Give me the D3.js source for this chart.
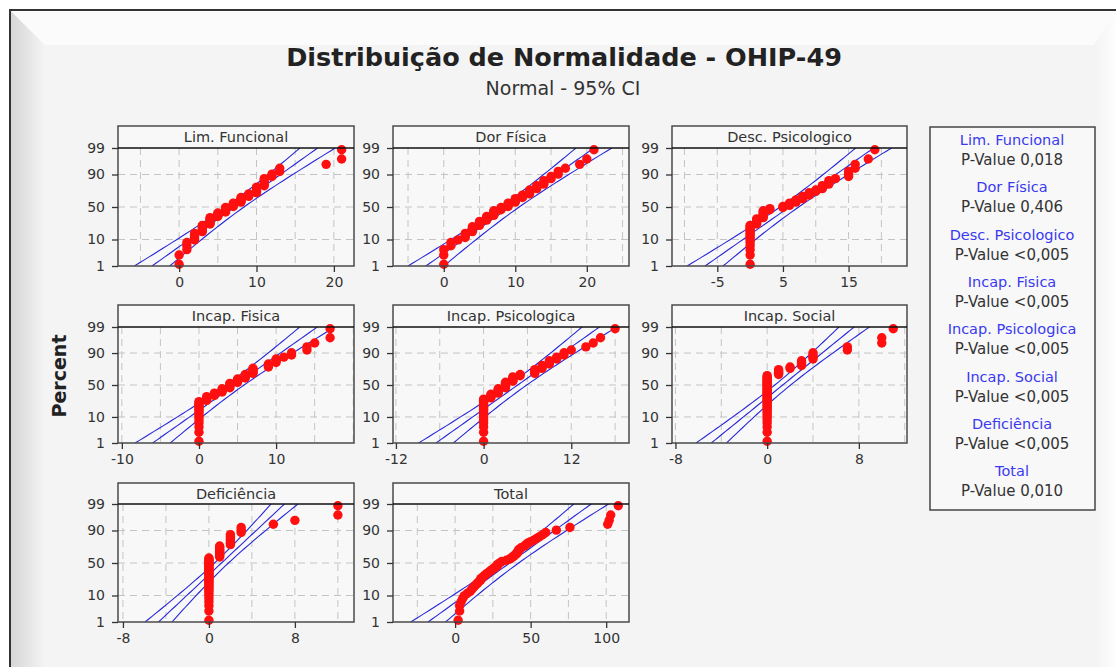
<!DOCTYPE html>
<html lang="pt">

<head>
    <meta charset="UTF-8">
    <title>Distribuição de Normalidade - OHIP-49</title>
    <style>
        body { margin: 0; background: #fff; }
        svg { display: block; font-family: 'DejaVu Sans', Verdana, sans-serif; }
    </style>
</head>

<body>
    <svg id="chart"></svg>

    <script src="https://d3js.org/d3.v7.min.js"></script>
    <script>
        const panelNames = ['Lim. Funcional', 'Dor Física', 'Desc. Psicologico', 'Incap. Fisica',
            'Incap. Psicologica', 'Incap. Social', 'Deficiência', 'Total']
        const pValues = ['0,018', '0,406', '<0,005', '<0,005', '<0,005', '<0,005', '<0,005', '0,010']
        const yTicks = [1, 10, 50, 90, 99]
        const xTicks = [[0, 10, 20], [0, 10, 20], [-5, 5, 15], [-10, 0, 10], [-12, 0, 12], [-8, 0, 8], [-8, 0, 8], [0, 50, 100]]

        // score / how many subjects with that score
        const limFuncValues = [0, 1, 2, 3, 4, 5, 6, 7, 8, 9, 10, 11, 12, 13, 19, 21]
        const limFuncCounts = [2, 3, 4, 5, 6, 4, 5, 4, 5, 3, 5, 5, 2, 2, 1, 2]
        const dorValues = [0, 1, 2, 3, 4, 5, 6, 7, 8, 9, 10, 11, 12, 13, 14, 15, 16, 17, 19, 20, 21]
        const dorCounts = [3, 2, 1, 3, 4, 4, 4, 5, 3, 4, 4, 3, 4, 3, 3, 2, 2, 1, 1, 1, 1]
        const descValues = [0, 1, 2, 3, 5, 6, 7, 8, 9, 10, 11, 12, 13, 15, 16, 18, 19]
        const descCounts = [14, 5, 7, 2, 2, 3, 3, 3, 3, 2, 3, 3, 1, 3, 2, 1, 1]
        const incFisValues = [0, 1, 2, 3, 4, 5, 6, 7, 9, 10, 11, 12, 14, 15, 17]
        const incFisCounts = [15, 4, 3, 4, 5, 4, 4, 5, 3, 3, 1, 2, 2, 1, 2]
        const incPsiValues = [0, 1, 2, 3, 4, 5, 7, 8, 9, 10, 11, 12, 14, 15, 16, 18]
        const incPsiCounts = [17, 4, 5, 6, 5, 2, 4, 3, 3, 2, 2, 1, 1, 1, 1, 1]
        const incSocValues = [0, 1, 2, 3, 4, 7, 10, 11]
        const incSocCounts = [38, 5, 2, 4, 4, 2, 2, 1]
        const defValues = [0, 1, 2, 3, 6, 8, 12]
        const defCounts = [34, 10, 7, 3, 1, 1, 2]
        const totalValues = [2, 3, 3, 4, 5, 6, 8, 10, 11, 12, 13, 14, 15, 16, 17, 17, 18, 19, 20, 21,
            22, 23, 24, 25, 26, 27, 28, 28, 29, 30, 31, 34, 36, 37, 38, 39, 40, 41, 41, 42,
            42, 43, 44, 46, 47, 48, 50, 52, 54, 56, 58, 60, 67, 76, 101, 102, 103, 108]

        // fitted normal line (mean, sd)
        const fitMean = [7.2, 9.25, 5.98, 4.67, 4.67, 1.36, 1.17, 36.1]
        const fitSd = [4.6, 5.05, 5.52, 4.59, 4.81, 2.68, 2.52, 23.2]

        const samples = [
            [limFuncValues, limFuncCounts],
            [dorValues, dorCounts],
            [descValues, descCounts],
            [incFisValues, incFisCounts],
            [incPsiValues, incPsiCounts],
            [incSocValues, incSocCounts],
            [defValues, defCounts],
            [totalValues, totalValues.map(() => 1)]
        ]

        // layout
        const W = 1116, H = 667
        const cols = [[118, 354], [393, 629], [672, 907]]
        const rows = [
            { top: 126, line: 148, bottom: 266 },
            { top: 305, line: 327, bottom: 443 },
            { top: 483, line: 504, bottom: 622 }
        ]
        const xDomains = [[-7.9, 22.6], [-7.1, 25.9], [-11.9, 23.9], [-10.5, 20.1], [-12.4, 19.9], [-8.3, 12.2], [-8.46, 13.5], [-41.1, 115.1]]
        const gridStep = [5, 5, 5, 5, 6, 4, 4, 25]

        const blue = '#2626d9'
        const red = '#ff0f0f'

        // inverse normal cdf (Acklam)
        function probit(p) {
            const a = [-3.969683028665376e+01, 2.209460984245205e+02, -2.759285104469687e+02, 1.383577518672690e+02, -3.066479806614716e+01, 2.506628277459239e+00]
            const b = [-5.447609879822406e+01, 1.615858368580409e+02, -1.556989798598866e+02, 6.680131188771972e+01, -1.328068155288572e+01]
            const c = [-7.784894002430293e-03, -3.223964580411365e-01, -2.400758277161838e+00, -2.549732539343734e+00, 4.374664141464968e+00, 2.938163982698783e+00]
            const d = [7.784695709041462e-03, 3.224671290700398e-01, 2.445134137142996e+00, 3.754408661907416e+00]
            const pl = 0.02425
            let q, r
            if (p < pl) {
                q = Math.sqrt(-2 * Math.log(p))
                return (((((c[0] * q + c[1]) * q + c[2]) * q + c[3]) * q + c[4]) * q + c[5]) / ((((d[0] * q + d[1]) * q + d[2]) * q + d[3]) * q + 1)
            }
            if (p > 1 - pl) {
                q = Math.sqrt(-2 * Math.log(1 - p))
                return -(((((c[0] * q + c[1]) * q + c[2]) * q + c[3]) * q + c[4]) * q + c[5]) / ((((d[0] * q + d[1]) * q + d[2]) * q + d[3]) * q + 1)
            }
            q = p - 0.5
            r = q * q
            return (((((a[0] * r + a[1]) * r + a[2]) * r + a[3]) * r + a[4]) * r + a[5]) * q / (((((b[0] * r + b[1]) * r + b[2]) * r + b[3]) * r + b[4]) * r + 1)
        }

        function expand(values, counts) {
            const out = []
            values.forEach((v, k) => {
                for (let j = 0; j < counts[k]; j++) out.push(v)
            })
            return out
        }

        const svg = d3.select('#chart').attr('width', W).attr('height', H)

        function renderBackground() {
            const defs = svg.append('defs')
            const gl = defs.append('linearGradient').attr('id', 'bevelL')
            gl.append('stop').attr('offset', '0%').attr('stop-color', '#d6d6d6')
            gl.append('stop').attr('offset', '100%').attr('stop-color', '#f4f4f4')
            const gr = defs.append('linearGradient').attr('id', 'bevelR')
            gr.append('stop').attr('offset', '0%').attr('stop-color', '#f4f4f4')
            gr.append('stop').attr('offset', '100%').attr('stop-color', '#fdfdfd')

            svg.append('rect').attr('width', W).attr('height', H).attr('fill', '#fff')
            svg.append('rect').attr('x', 10).attr('y', 10).attr('width', W - 10).attr('height', H - 10).attr('fill', '#f4f4f4')
            svg.append('polygon').attr('points', `11,11 45,45 45,${H} 11,${H}`).attr('fill', 'url(#bevelL)')
            svg.append('polygon').attr('points', `11,11 ${W},11 ${W - 22},45 45,45`).attr('fill', '#fbfbfb')
            svg.append('polygon').attr('points', `${W - 22},45 ${W},11 ${W},${H} ${W - 22},${H}`).attr('fill', 'url(#bevelR)')
            svg.append('path').attr('d', `M10,${H} V10 H${W}`).attr('fill', 'none').attr('stroke', '#333').attr('stroke-width', 2)
        }

        function renderPanel(i) {
            const [x0, x1] = cols[i % 3]
            const r = rows[Math.floor(i / 3)]
            const zLo = probit(0.01), zHi = probit(0.99)
            const x = d3.scaleLinear().domain(xDomains[i]).range([x0, x1])
            const y = d3.scaleLinear().domain([zLo, zHi]).range([r.bottom, r.line])
            const g = svg.append('g')

            g.append('rect')
                .attr('x', x0).attr('y', r.top)
                .attr('width', x1 - x0).attr('height', r.bottom - r.top)
                .attr('fill', '#f8f8f8')

            g.append('clipPath').attr('id', 'clip' + i)
                .append('rect')
                .attr('x', x0).attr('y', r.line)
                .attr('width', x1 - x0).attr('height', r.bottom - r.line)

            // grid
            const step = gridStep[i]
            const gx = d3.range(Math.ceil(xDomains[i][0] / step) * step, xDomains[i][1], step)
            g.append('g').selectAll('line').data(gx).join('line')
                .attr('x1', d => x(d)).attr('x2', d => x(d))
                .attr('y1', r.line).attr('y2', r.bottom)
                .attr('stroke', '#c4c4c4').attr('stroke-dasharray', '7,5')
            g.append('g').selectAll('line').data([10, 50, 90]).join('line')
                .attr('x1', x0).attr('x2', x1)
                .attr('y1', d => y(probit(d / 100))).attr('y2', d => y(probit(d / 100)))
                .attr('stroke', '#c4c4c4').attr('stroke-dasharray', '7,5')

            // fit line + 95% CI
            const pts = expand(samples[i][0], samples[i][1])
            const n = pts.length
            const mu = fitMean[i], sd = fitSd[i]
            const zs = d3.range(0, 41).map(k => zLo + (zHi - zLo) * k / 40)
            const half = z => 1.96 * sd * Math.sqrt((1 + z * z / 2) / n)
            const line = d3.line().x(d => x(d[0])).y(d => y(d[1]))
            const curves = [
                zs.map(z => [mu + z * sd - half(z), z]),
                zs.map(z => [mu + z * sd, z]),
                zs.map(z => [mu + z * sd + half(z), z])
            ]
            g.append('g').attr('clip-path', `url(#clip${i})`)
                .selectAll('path').data(curves).join('path')
                .attr('d', line)
                .attr('fill', 'none').attr('stroke', blue).attr('stroke-width', 1.1)

            // points
            g.append('g').selectAll('circle').data(pts).join('circle')
                .attr('cx', d => x(d))
                .attr('cy', (d, k) => y(probit((k + 1 - 0.3) / (n + 0.4))))
                .attr('r', 4.7)
                .attr('fill', red)

            // frame and header
            g.append('rect')
                .attr('x', x0).attr('y', r.top)
                .attr('width', x1 - x0).attr('height', r.bottom - r.top)
                .attr('fill', 'none').attr('stroke', '#4a4a4a').attr('stroke-width', 1.5)
            g.append('line')
                .attr('x1', x0).attr('x2', x1).attr('y1', r.line).attr('y2', r.line)
                .attr('stroke', '#111').attr('stroke-width', 1.6)
            g.append('text')
                .attr('x', (x0 + x1) / 2).attr('y', (r.top + r.line) / 2 + 5)
                .attr('text-anchor', 'middle')
                .attr('font-size', 14.5).attr('fill', '#333')
                .text(panelNames[i])

            // axes
            const yAxis = d3.axisLeft(y)
                .tickValues(yTicks.map(p => probit(p / 100)))
                .tickFormat((d, k) => yTicks[k])
                .tickSize(6).tickPadding(7)
            const xAxis = d3.axisBottom(x).tickValues(xTicks[i])
                .tickFormat(d => String(d))
                .tickSize(6).tickPadding(5)
            const ya = g.append('g').attr('transform', `translate(${x0},0)`).call(yAxis)
            const xa = g.append('g').attr('transform', `translate(0,${r.bottom})`).call(xAxis)
            ;[ya, xa].forEach(a => {
                a.select('.domain').remove()
                a.selectAll('line').attr('stroke', '#333').attr('stroke-width', 1.3)
                a.selectAll('text').attr('font-size', 14).attr('font-family', "'DejaVu Sans', Verdana, sans-serif").attr('fill', '#333')
            })
        }

        function renderLegend() {
            svg.append('rect')
                .attr('x', 930).attr('y', 127).attr('width', 165).attr('height', 383)
                .attr('fill', '#f8f8f8').attr('stroke', '#444').attr('stroke-width', 1.5)
            const items = svg.append('g').selectAll('g').data(panelNames).join('g')
                .attr('transform', (d, k) => `translate(1012,${140 + k * 47.3})`)
            items.append('text')
                .attr('y', 5).attr('text-anchor', 'middle')
                .attr('font-size', 14.5).attr('fill', '#3a3af0')
                .text(d => d)
            items.append('text')
                .attr('y', 25).attr('text-anchor', 'middle')
                .attr('font-size', 15).attr('fill', '#333')
                .text((d, k) => 'P-Value ' + pValues[k])
        }

        function renderTitles() {
            svg.append('text')
                .attr('x', 564).attr('y', 66).attr('text-anchor', 'middle')
                .attr('font-size', 25.5).attr('font-weight', 'bold').attr('fill', '#222')
                .text('Distribuição de Normalidade - OHIP-49')
            svg.append('text')
                .attr('x', 563).attr('y', 95).attr('text-anchor', 'middle')
                .attr('font-size', 19).attr('fill', '#333')
                .text('Normal - 95% CI')
            svg.append('text')
                .attr('transform', 'translate(66,376) rotate(-90)')
                .attr('text-anchor', 'middle')
                .attr('font-size', 19).attr('font-weight', 'bold').attr('fill', '#222')
                .text('Percent')
        }

        renderBackground()
        renderTitles()
        for (let i = 0; i < panelNames.length; i++) renderPanel(i)
        renderLegend()
    </script>
</body>

</html>
